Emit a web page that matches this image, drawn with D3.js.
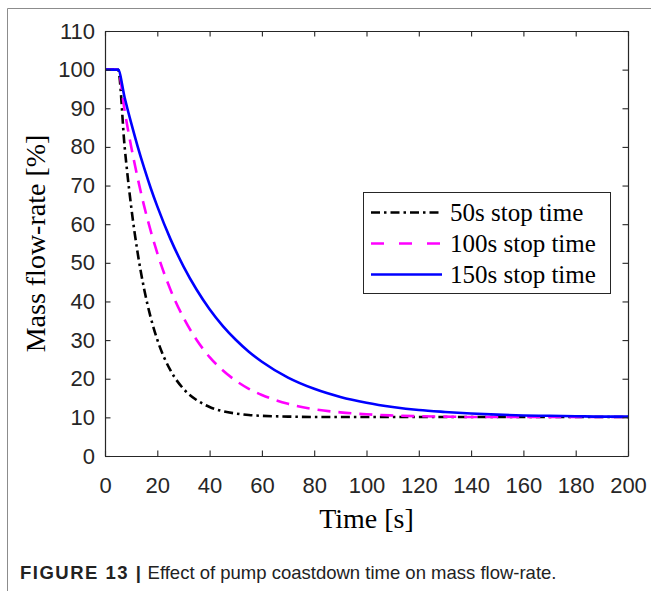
<!DOCTYPE html>
<html>
<head>
<meta charset="utf-8">
<script src="https://cdn.jsdelivr.net/npm/d3@7"></script>
<style>
  html, body { margin: 0; padding: 0; background: #fff; }
  svg { display: block; }
</style>
</head>
<body>
<svg id="chart" width="651" height="591"></svg>
<script>
// ---- Data ----
const time = [0, 5, 7.5, 10, 12.5, 15, 17.5, 20, 25, 30, 35, 40, 45, 50, 55, 60, 70, 80, 90, 100, 110, 120, 130, 140, 150, 160, 170, 180, 190, 200];
const flow50s  = [100, 100, 80.1, 64.6, 52.5, 43.1, 35.8, 30.1, 22.2, 17.4, 14.5, 12.7, 11.6, 11.0, 10.6, 10.4, 10.2, 10.1, 10.1, 10.1, 10.1, 10.1, 10.1, 10.1, 10.1, 10.1, 10.1, 10.1, 10.1, 10.1];
const flow100s = [100, 100, 89.4, 80.1, 71.9, 64.6, 58.2, 52.5, 43.1, 35.8, 30.1, 25.6, 22.2, 19.5, 17.4, 15.8, 13.5, 12.1, 11.3, 10.8, 10.5, 10.3, 10.2, 10.1, 10.1, 10.1, 10.1, 10.1, 10.1, 10.1];
const flow150s = [100, 100, 92.8, 86.2, 80.1, 74.5, 69.3, 64.6, 56.2, 49.1, 43.1, 38.0, 33.7, 30.1, 27.0, 24.4, 20.3, 17.4, 15.3, 13.8, 12.7, 11.9, 11.4, 11.0, 10.7, 10.5, 10.4, 10.3, 10.2, 10.2];
const seriesNames = ["50s stop time", "100s stop time", "150s stop time"];
const xTicks = [0, 20, 40, 60, 80, 100, 120, 140, 160, 180, 200];
const yTicks = [0, 10, 20, 30, 40, 50, 60, 70, 80, 90, 100, 110];
const xLabel = "Time [s]";
const yLabel = "Mass flow-rate [%]";
const captionBold = "FIGURE 13 |";
const captionText = " Effect of pump coastdown time on mass flow-rate.";

(function () {
// ---- Styles ----
const styles = [
  { color: "#000000", dash: "9,4,2.5,4", legendDash: "9,4,2.5,4" },
  { color: "#ff00ff", dash: "13,8", legendDash: "13,15" },
  { color: "#0000ff", dash: null, legendDash: null }
];
const seriesVals = [flow50s, flow100s, flow150s];

const svg = d3.select("#chart");
const W = 651, H = 591;
const pl = 105, pr = 628, pt = 31, pb = 456;

// Figure frame (top + left borders)
svg.append("line").attr("x1", 7.5).attr("x2", W).attr("y1", 8.5).attr("y2", 8.5)
  .attr("stroke", "#8c8c8c").attr("stroke-width", 1);
svg.append("line").attr("x1", 7.5).attr("x2", 7.5).attr("y1", 8.5).attr("y2", H)
  .attr("stroke", "#8c8c8c").attr("stroke-width", 1);

const x = d3.scaleLinear().domain([0, 200]).range([pl, pr]);
const y = d3.scaleLinear().domain([0, 110]).range([pb, pt]);

const axisColor = "#262626";
const tickFont = "'Liberation Sans', Arial, Helvetica, sans-serif";
const serif = "'Liberation Serif', 'Times New Roman', Times, serif";

svg.append("clipPath").attr("id", "clip").append("rect")
  .attr("x", pl).attr("y", pt).attr("width", pr - pl).attr("height", pb - pt);

// Lines
const line = d3.line().x((d, i) => x(time[i])).y(d => y(d)).curve(d3.curveMonotoneX);
seriesVals.forEach((vals, k) => {
  svg.append("path")
    .datum(vals)
    .attr("clip-path", "url(#clip)")
    .attr("d", line)
    .attr("fill", "none")
    .attr("stroke", styles[k].color)
    .attr("stroke-width", 2.6)
    .attr("stroke-dasharray", styles[k].dash);
});

// Axes
const tickLen = 5.5;
const xAxisB = d3.axisBottom(x).tickValues(xTicks).tickSizeInner(-tickLen).tickSizeOuter(0).tickPadding(26).tickFormat(d3.format("d"));
const xAxisT = d3.axisTop(x).tickValues(xTicks).tickSizeInner(-tickLen).tickSizeOuter(0).tickFormat("");
const yAxisL = d3.axisLeft(y).tickValues(yTicks).tickSizeInner(-tickLen).tickSizeOuter(0).tickPadding(10).tickFormat(d3.format("d"));
const yAxisR = d3.axisRight(y).tickValues(yTicks).tickSizeInner(-tickLen).tickSizeOuter(0).tickFormat("");

function styleAxis(g) {
  g.select(".domain").attr("stroke", axisColor).attr("stroke-width", 1.2);
  g.selectAll(".tick line").attr("stroke", axisColor).attr("stroke-width", 1.1);
  g.selectAll(".tick text").attr("fill", "#262626").attr("font-family", tickFont).attr("font-size", 22);
}
svg.append("g").attr("transform", `translate(0,${pb})`).call(xAxisB).call(styleAxis)
  .selectAll(".tick text").attr("dy", "0.5em");
svg.append("g").attr("transform", `translate(0,${pt})`).call(xAxisT).call(styleAxis);
svg.append("g").attr("transform", `translate(${pl},0)`).call(yAxisL).call(styleAxis);
svg.append("g").attr("transform", `translate(${pr},0)`).call(yAxisR).call(styleAxis);

// Axis labels
svg.append("text").attr("x", (pl + pr) / 2).attr("y", 528)
  .attr("text-anchor", "middle").attr("font-family", serif).attr("font-size", 28).attr("fill", "#000")
  .text(xLabel);
svg.append("text").attr("transform", `translate(45,${(pt + pb) / 2}) rotate(-90)`)
  .attr("text-anchor", "middle").attr("font-family", serif).attr("font-size", 28).attr("fill", "#000")
  .text(yLabel);

// Legend
const lg = svg.append("g");
lg.append("rect").attr("x", 363.5).attr("y", 192.5).attr("width", 247).attr("height", 101)
  .attr("fill", "#fff").attr("stroke", "#262626").attr("stroke-width", 1);
const rowY = [212.5, 243.5, 274.5];
seriesNames.forEach((name, k) => {
  lg.append("line").attr("x1", 371).attr("x2", 442).attr("y1", rowY[k]).attr("y2", rowY[k])
    .attr("stroke", styles[k].color).attr("stroke-width", 2.6)
    .attr("stroke-dasharray", styles[k].legendDash);
  lg.append("text").attr("x", 450).attr("y", rowY[k] + 8.5)
    .attr("font-family", serif).attr("font-size", 25).attr("fill", "#000")
    .text(name);
});

// Caption
const cap = svg.append("text").attr("x", 20).attr("y", 579)
  .attr("font-family", tickFont).attr("font-size", 18.5).attr("fill", "#222");
cap.append("tspan").attr("font-weight", "bold").attr("letter-spacing", 1.5).text(captionBold);
cap.append("tspan").text(captionText);
})();
</script>
</body>
</html>
